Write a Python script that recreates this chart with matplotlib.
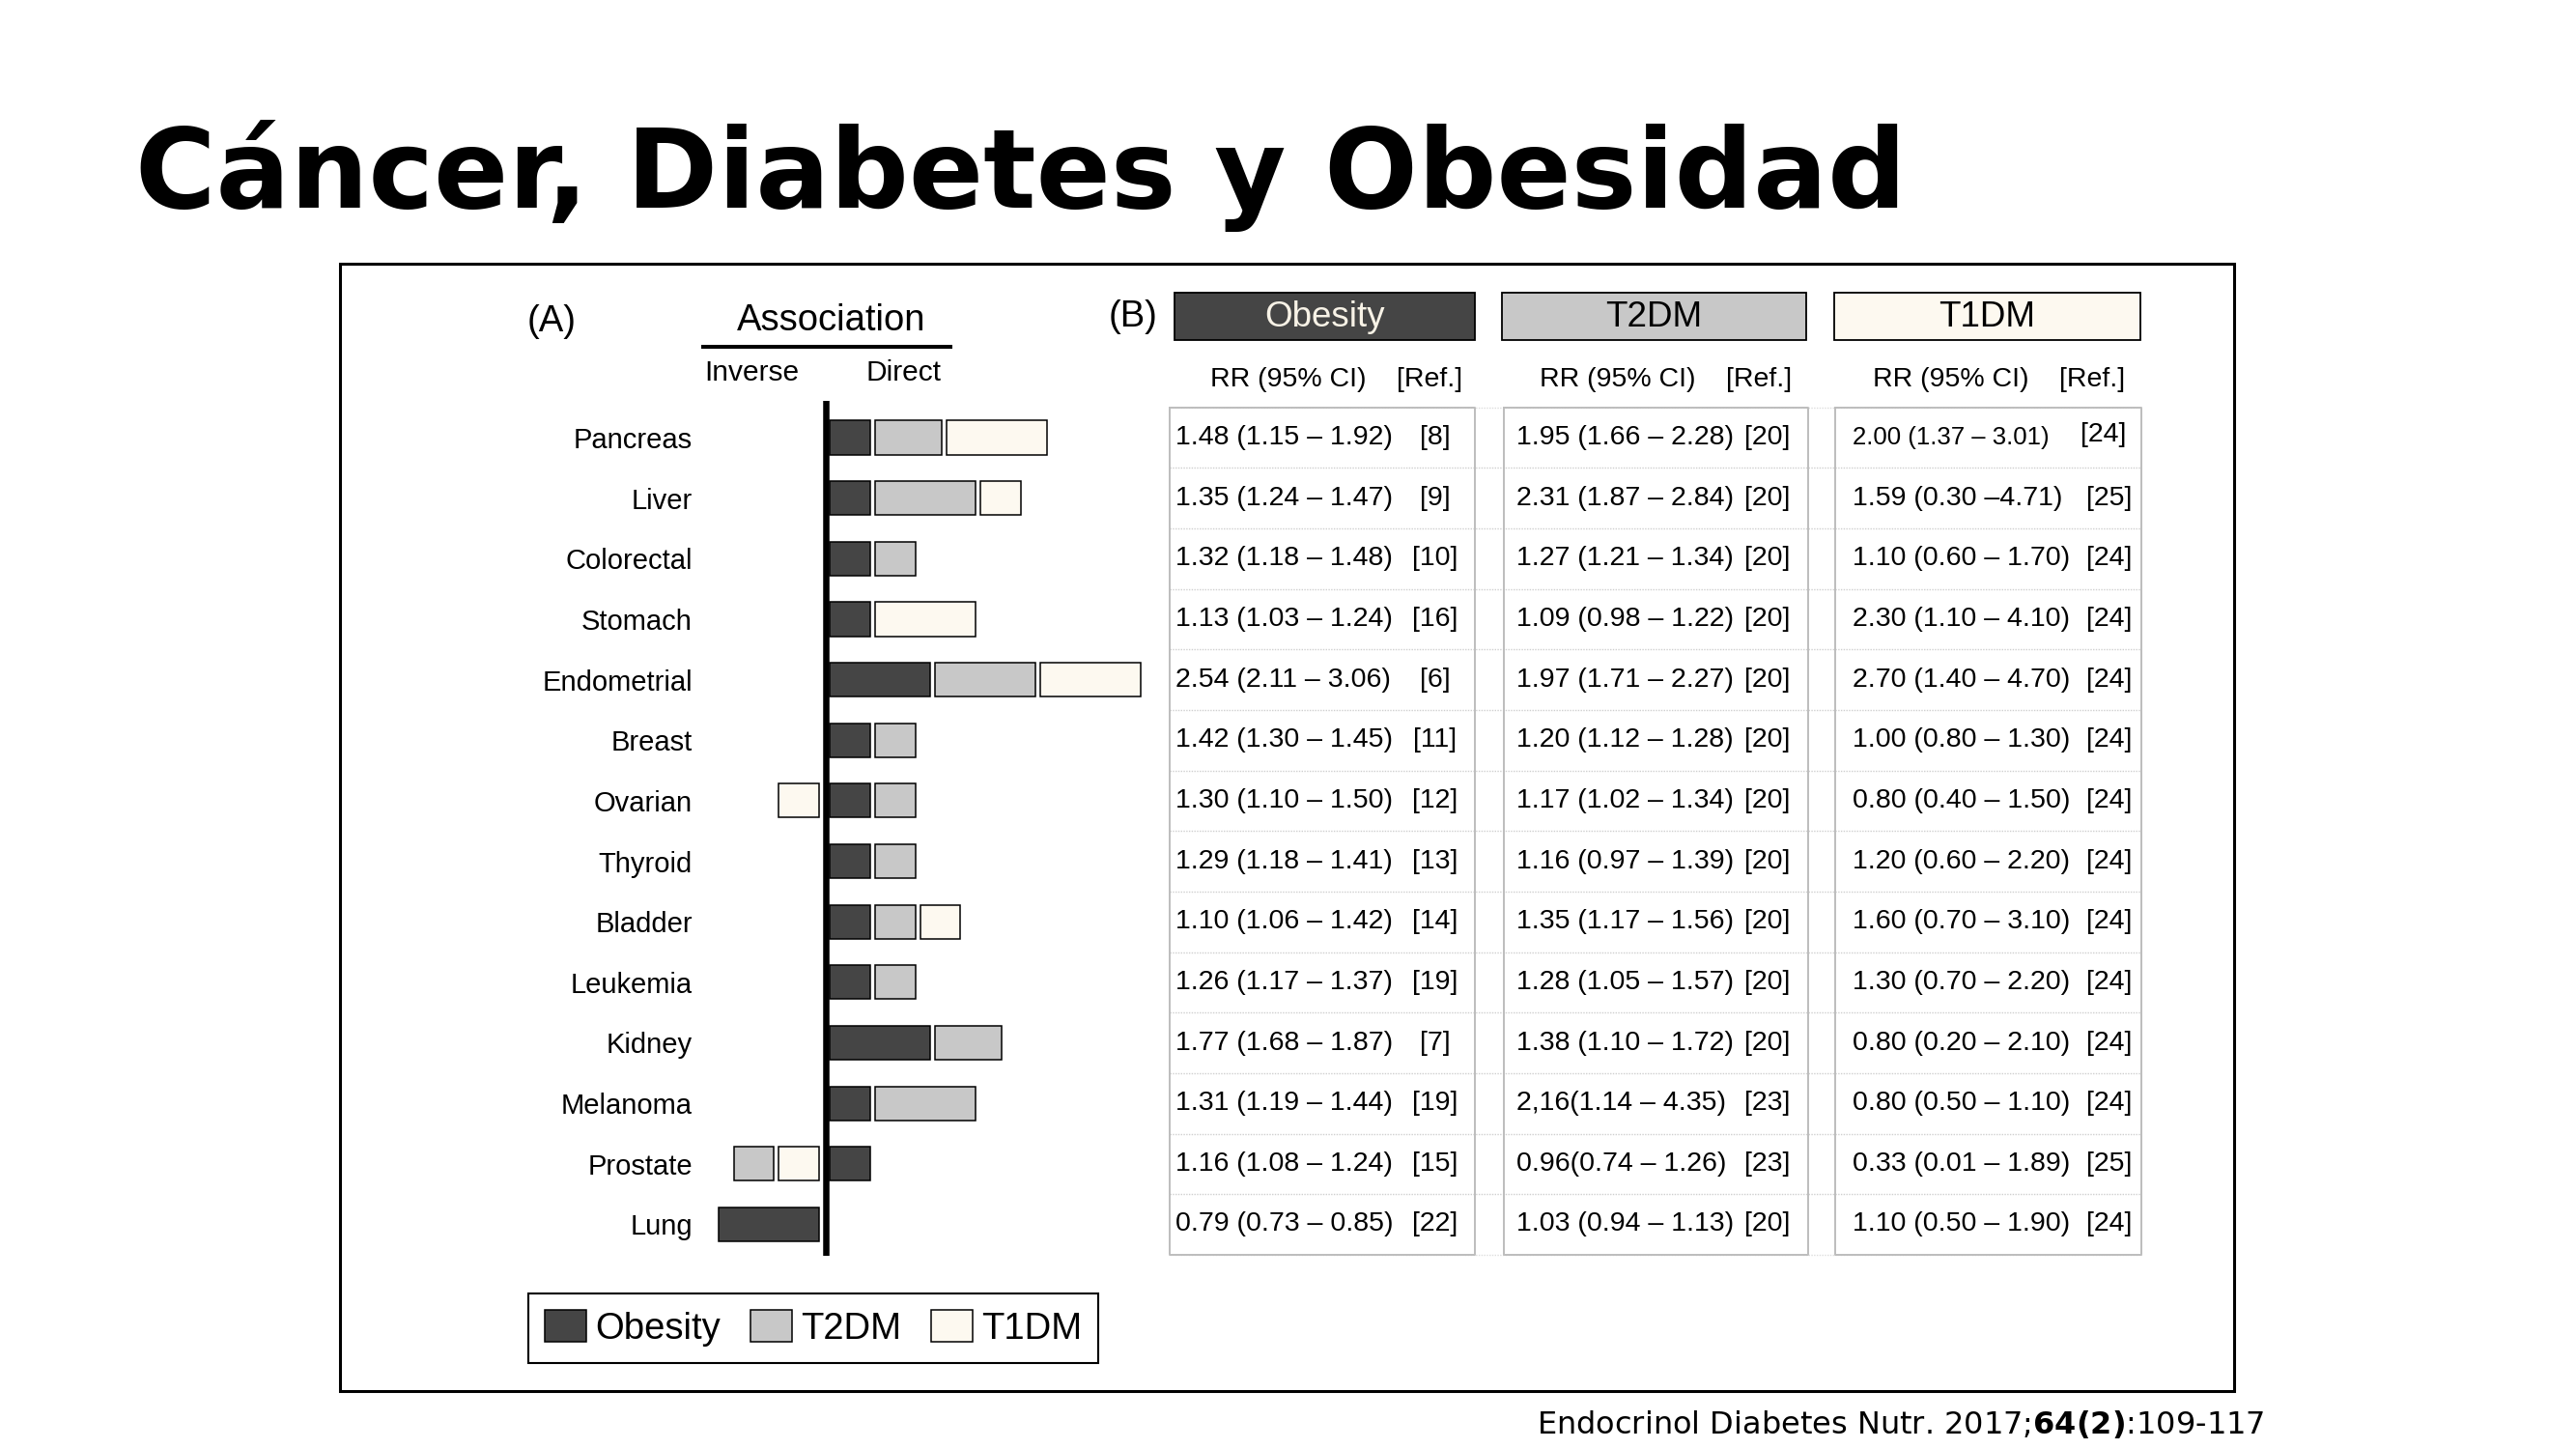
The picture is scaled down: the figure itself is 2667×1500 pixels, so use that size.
import matplotlib.pyplot as plt
from matplotlib.patches import Rectangle

title = 'Cáncer, Diabetes y Obesidad'
citation = r'Endocrinol Diabetes Nutr. 2017;$\mathbf{64(2)}$:109-117'

cancers = ['Pancreas', 'Liver', 'Colorectal', 'Stomach', 'Endometrial', 'Breast',
           'Ovarian', 'Thyroid', 'Bladder', 'Leukemia', 'Kidney', 'Melanoma',
           'Prostate', 'Lung']
series = ['Obesity', 'T2DM', 'T1DM']

# bar lengths (relative units, negative = inverse association)
obesity_len = [1, 1, 1, 1, 2.5, 1, 1, 1, 1, 1, 2.5, 1, 1, -2.5]
t2dm_len = [1.65, 2.5, 1, 0, 2.5, 1, 1, 1, 1, 1, 1.65, 2.5, -1, 0]
t1dm_len = [2.5, 1, 0, 2.5, 2.5, 0, -1, 0, 1, 0, 0, 0, -1, 0]

obesity_rr = ['1.48 (1.15 – 1.92)', '1.35 (1.24 – 1.47)', '1.32 (1.18 – 1.48)',
              '1.13 (1.03 – 1.24)', '2.54 (2.11 – 3.06)', '1.42 (1.30 – 1.45)',
              '1.30 (1.10 – 1.50)', '1.29 (1.18 – 1.41)', '1.10 (1.06 – 1.42)',
              '1.26 (1.17 – 1.37)', '1.77 (1.68 – 1.87)', '1.31 (1.19 – 1.44)',
              '1.16 (1.08 – 1.24)', '0.79 (0.73 – 0.85)']
obesity_ref = ['[8]', '[9]', '[10]', '[16]', '[6]', '[11]', '[12]', '[13]', '[14]',
               '[19]', '[7]', '[19]', '[15]', '[22]']
t2dm_rr = ['1.95 (1.66 – 2.28)', '2.31 (1.87 – 2.84)', '1.27 (1.21 – 1.34)',
           '1.09 (0.98 – 1.22)', '1.97 (1.71 – 2.27)', '1.20 (1.12 – 1.28)',
           '1.17 (1.02 – 1.34)', '1.16 (0.97 – 1.39)', '1.35 (1.17 – 1.56)',
           '1.28 (1.05 – 1.57)', '1.38 (1.10 – 1.72)', '2,16(1.14 – 4.35)',
           '0.96(0.74 – 1.26)', '1.03 (0.94 – 1.13)']
t2dm_ref = ['[20]'] * 11 + ['[23]', '[23]', '[20]']
t1dm_rr = ['2.00 (1.37 – 3.01)', '1.59 (0.30 –4.71)', '1.10 (0.60 – 1.70)',
           '2.30 (1.10 – 4.10)', '2.70 (1.40 – 4.70)', '1.00 (0.80 – 1.30)',
           '0.80 (0.40 – 1.50)', '1.20 (0.60 – 2.20)', '1.60 (0.70 – 3.10)',
           '1.30 (0.70 – 2.20)', '0.80 (0.20 – 2.10)', '0.80 (0.50 – 1.10)',
           '0.33 (0.01 – 1.89)', '1.10 (0.50 – 1.90)']
t1dm_ref = ['[24]', '[25]', '[24]', '[24]', '[24]', '[24]', '[24]', '[24]', '[24]',
            '[24]', '[24]', '[24]', '[25]', '[24]']

colors = ['#454545', '#c8c8c8', '#fdf9f0']

plt.rcParams['font.family'] = ['Liberation Sans', 'DejaVu Sans']
plt.rcParams['mathtext.fontset'] = 'dejavusans'

W, H = 2667, 1500
fig = plt.figure(figsize=(W / 100, H / 100), dpi=100)


def fx(px):
    return px / W


def fy(py):
    return 1 - py / H


# page layer in pixel coordinates
page = fig.add_axes([0, 0, 1, 1])
page.set_xlim(0, W)
page.set_ylim(H, 0)
page.axis('off')

page.text(139.5, 215, title, fontsize=82, fontweight='bold',
          family='DejaVu Sans', va='baseline')
page.text(2344, 1484, citation, fontsize=23, family='DejaVu Sans',
          ha='right', va='baseline')
page.add_patch(Rectangle((352, 273), 2313 - 352, 1440 - 273, fill=False,
                         lw=2.2, ec='black'))

# panel A headings
page.text(546, 333, '(A)', fontsize=27.5, va='center')
page.text(861, 332, 'Association', fontsize=27.5, ha='center', va='center')
page.plot([726, 986], [359, 359], color='black', lw=2.9, solid_capstyle='butt')
page.text(778.5, 386, 'Inverse', fontsize=21.5, ha='center', va='center')
page.text(935.5, 386, 'Direct', fontsize=21.5, ha='center', va='center')

# panel A bars
n = len(cancers)
ax = fig.add_axes([fx(730.5), fy(1300), (1187 - 730.5) / W, (1300 - 415) / H])
ax.set_xlim(-3, 8)
ax.set_ylim(13.52, -0.607)
gap = 0.13
lens = [obesity_len, t2dm_len, t1dm_len]
lefts = [[0.0] * n for _ in series]
for i in range(n):
    pos, neg = 0.1, -0.17
    for k in range(3):
        w = lens[k][i]
        if w > 0:
            lefts[k][i] = pos
            pos += w + gap
    for k in (2, 1, 0):
        w = lens[k][i]
        if w < 0:
            lefts[k][i] = neg + w
            neg += w - gap
handles = []
for k in range(3):
    widths = [abs(v) for v in lens[k]]
    b = ax.barh(range(n), widths, left=lefts[k], height=0.56, color=colors[k],
                edgecolor='black', linewidth=1.1, label=series[k])
    handles.append(b)
ax.axvline(0, color='black', lw=4.7)
for s in ax.spines.values():
    s.set_visible(False)
ax.set_xticks([])
ax.set_yticks(range(n))
ax.set_yticklabels(cancers, fontsize=21)
ax.tick_params(axis='y', length=0, pad=9.7)
ax.patch.set_alpha(0)

leg = fig.legend(handles, series, loc='center', bbox_to_anchor=(fx(842), fy(1375)),
                 ncol=3, fontsize=27.5, handlelength=1.12, handleheight=0.93,
                 handletextpad=0.24, columnspacing=0.82, borderpad=0.45,
                 borderaxespad=0, fancybox=False, framealpha=1)
leg.get_frame().set_edgecolor('black')
leg.get_frame().set_linewidth(1.5)

# panel B table
page.text(1148, 328, '(B)', fontsize=27.5, va='center')
row_top, row_h = 421.7, 62.65
row_bot = row_top + n * row_h
head_x = [(1216, 1527), (1554.5, 1870), (1899, 2215.5)]
head_txt = ['#f7f2e6', 'black', 'black']
for k in range(3):
    x0, x1 = head_x[k]
    page.add_patch(Rectangle((x0, 303), x1 - x0, 49, facecolor=colors[k],
                             edgecolor='black', lw=1.3))
    page.text((x0 + x1) / 2, 328, series[k], fontsize=26.5, color=head_txt[k],
              ha='center', va='center')
    page.text((x0 + x1) / 2 + 12, 393, 'RR (95% CI)    [Ref.]', fontsize=20.5,
              ha='center', va='center')

cols = [(1211, 1527), (1557, 1872), (1900, 2217)]
grid = '#bdbdbd'
for k in range(1, n):
    yk = row_top + k * row_h
    page.plot([1211, 2217], [yk, yk], color='#cfcfcf', lw=1, ls=(0, (1, 1)))
page.plot([1211, 2217], [row_top, row_top], color='#dddddd', lw=1, ls=(0, (1, 1)))
page.plot([1211, 2217], [row_bot, row_bot], color='#dddddd', lw=1, ls=(0, (1, 1)))
for x0, x1 in cols:
    page.plot([x0, x1, x1, x0, x0], [row_top, row_top, row_bot, row_bot, row_top],
              color=grid, lw=1.4)

text_x = [1217, 1570, 1918]
ref_x = [1486, 1853, 2184]
ref_ha = ['center', 'right', 'center']
rr_cols = [obesity_rr, t2dm_rr, t1dm_rr]
ref_cols = [obesity_ref, t2dm_ref, t1dm_ref]
for k in range(3):
    for i in range(n):
        yc = row_top + (i + 0.5) * row_h
        first_t1 = (k == 2 and i == 0)
        fs = 18.5 if first_t1 else 20.5
        page.text(text_x[k], yc, rr_cols[k][i], fontsize=fs, va='center')
        dy = -3 if first_t1 else 0
        dx = -6 if first_t1 else 0
        page.text(ref_x[k] + dx, yc + dy, ref_cols[k][i], fontsize=20.5,
                  ha=ref_ha[k], va='center')

fig.savefig('out.png', dpi=100)
